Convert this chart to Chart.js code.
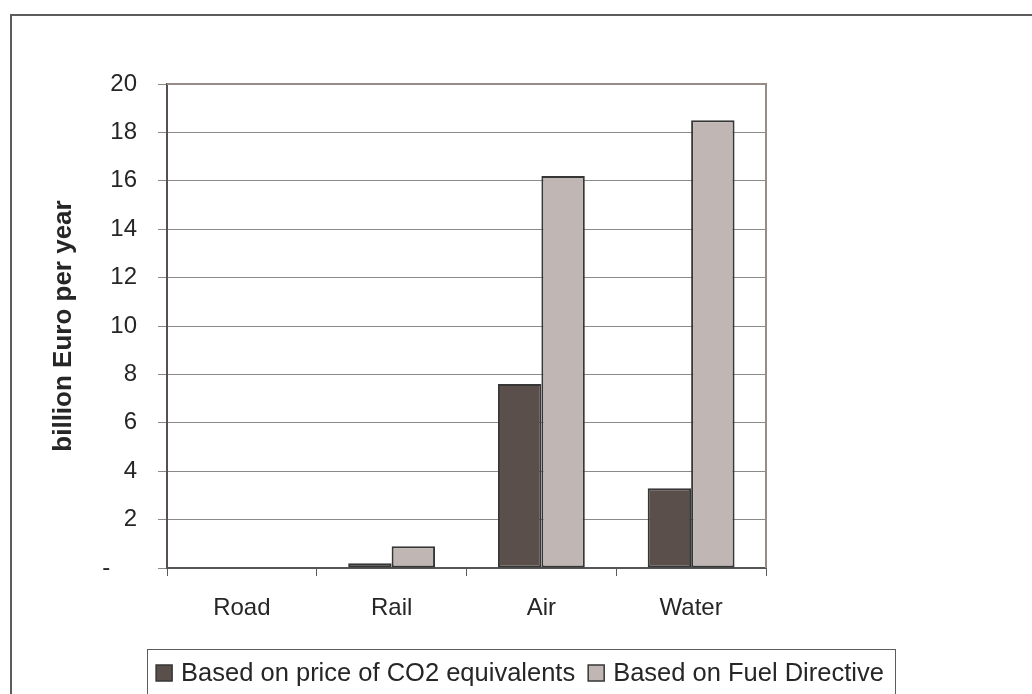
<!DOCTYPE html>
<html>
<head>
<meta charset="utf-8">
<script src="https://cdn.jsdelivr.net/npm/chart.js@4/dist/chart.umd.min.js"></script>
<style>
  html, body { margin: 0; padding: 0; background: #ffffff; }
  #wrap { width: 1032px; height: 694px; position: relative; }
</style>
</head>
<body>
<div id="wrap"><canvas id="c" width="1032" height="694"></canvas></div>
<script>
// Transport modes on the category axis
const categories = ['Road', 'Rail', 'Air', 'Water'];
// Cost estimates, billion Euro per year
const co2PriceValues = [0, 0.2, 7.6, 3.3];
const fuelDirectiveValues = [0, 0.9, 16.2, 18.5];
const seriesLabels = ['Based on price of CO2 equivalents', 'Based on Fuel Directive'];
const yAxisTitle = 'billion Euro per year';
const yTickValues = [0, 2, 4, 6, 8, 10, 12, 14, 16, 18, 20];

const FONT = '"Liberation Sans", Arial, sans-serif';
const TEXT = '#262626';

// Frame around the whole figure, border of the plot area and the boxed legend
const framePlugin = {
  id: 'frame',
  afterDraw(chart) {
    const ctx = chart.ctx;
    const a = chart.chartArea;
    ctx.save();
    // outer frame (left and top edges)
    ctx.strokeStyle = '#5c5c5c';
    ctx.lineWidth = 2;
    ctx.beginPath();
    ctx.moveTo(11, 700);
    ctx.lineTo(11, 15);
    ctx.lineTo(1040, 15);
    ctx.stroke();
    // plot area top and right edges
    ctx.strokeStyle = '#978b88';
    ctx.lineWidth = 2;
    ctx.beginPath();
    ctx.moveTo(a.left, a.top);
    ctx.lineTo(a.right, a.top);
    ctx.lineTo(a.right, a.bottom);
    ctx.stroke();

    // legend
    const fontSize = 25.5;
    ctx.font = fontSize + 'px ' + FONT;
    const box = 16, gapText = 9, gapItem = 13;
    const items = chart.data.datasets.map(ds => ({
      label: ds.label, fill: ds.backgroundColor, stroke: ds.borderColor,
      w: box + gapText + ctx.measureText(ds.label).width
    }));
    const total = items.reduce((s, it) => s + it.w, 0) + gapItem * (items.length - 1);
    const cx = 520, cy = 673;
    let x = cx - total / 2;
    ctx.strokeStyle = '#5c5c5c';
    ctx.lineWidth = 1;
    ctx.strokeRect(Math.round(x - 9) + 0.5, 649.5, Math.round(total + 20), 60);
    ctx.textBaseline = 'middle';
    ctx.textAlign = 'left';
    items.forEach(it => {
      ctx.fillStyle = it.fill;
      ctx.fillRect(x, cy - box / 2, box, box);
      ctx.strokeStyle = it.stroke;
      ctx.lineWidth = 1.5;
      ctx.strokeRect(x, cy - box / 2, box, box);
      ctx.fillStyle = TEXT;
      ctx.fillText(it.label, x + box + gapText, cy + 1);
      x += it.w + gapItem;
    });
    ctx.restore();
  }
};

new Chart(document.getElementById('c'), {
  type: 'bar',
  data: {
    labels: categories,
    datasets: [
      {
        label: seriesLabels[0],
        data: co2PriceValues,
        backgroundColor: '#5a4f4b',
        borderColor: '#363636',
        borderWidth: 2,
        borderSkipped: false
      },
      {
        label: seriesLabels[1],
        data: fuelDirectiveValues,
        backgroundColor: '#c0b7b4',
        borderColor: '#363636',
        borderWidth: 2,
        borderSkipped: false
      }
    ]
  },
  options: {
    responsive: false,
    animation: false,
    devicePixelRatio: 1,
    layout: { padding: { left: 10, right: 266, top: 84, bottom: 66 } },
    plugins: {
      legend: { display: false },
      tooltip: { enabled: false }
    },
    datasets: { bar: { categoryPercentage: 0.58, barPercentage: 1 } },
    scales: {
      x: {
        grid: {
          offset: true,
          drawOnChartArea: false,
          drawTicks: true,
          tickLength: 8,
          color: '#5c5c5c',
          lineWidth: 1
        },
        border: { display: true, color: '#555555', width: 2 },
        ticks: {
          padding: 18,
          color: TEXT,
          font: { family: FONT, size: 24 }
        },
        afterFit(scale) { scale.height = 60; }
      },
      y: {
        min: 0,
        max: 20,
        afterBuildTicks(scale) { scale.ticks = yTickValues.map(v => ({ value: v })); },
        grid: {
          color: '#8a8a8a',
          lineWidth: 1,
          drawTicks: true,
          tickLength: 9
        },
        border: { display: true, color: '#575050', width: 2 },
        ticks: {
          padding: 21,
          color: TEXT,
          font: { family: FONT, size: 24 },
          callback: v => (v === 0 ? '-    ' : String(v))
        },
        title: {
          display: true,
          text: yAxisTitle,
          color: TEXT,
          font: { family: FONT, size: 26, weight: 'bold' },
          padding: { top: 38, bottom: 0 }
        },
        afterFit(scale) { scale.width = 157; }
      }
    }
  },
  plugins: [framePlugin]
});
</script>
</body>
</html>
